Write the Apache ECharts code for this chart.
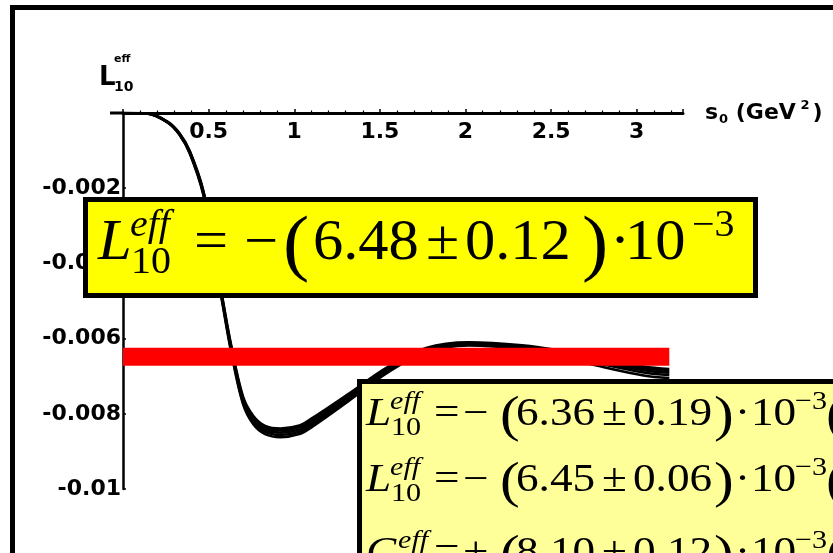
<!DOCTYPE html>
<html>
<head>
<meta charset="utf-8">
<script src="https://cdn.jsdelivr.net/npm/echarts@6/dist/echarts.min.js"></script>
<style>
  html, body { margin: 0; padding: 0; background: #fff; }
  #chart { width: 833px; height: 553px; }
</style>
</head>
<body>
<div id="chart"></div>
<script>
// s0 grid (GeV^2) shared by the family of L10eff curves
const sGrid = [0, 0.14, 0.26, 0.33, 0.39, 0.47, 0.52, 0.58, 0.63, 0.70, 0.76, 0.83, 0.92, 1.03, 1.10, 1.32, 1.54, 1.77, 2.02, 2.33, 2.55, 2.78, 3.04, 3.19];

// L10eff(s0) in units of 10^-3, one array per curve of the band
const curveA = [0, -0.01, -0.23, -0.54, -1.01, -2.08, -3.40, -4.90, -6.14, -7.53, -8.05, -8.32, -8.39, -8.31, -8.13, -7.46, -6.77, -6.25, -6.10, -6.18, -6.32, -6.53, -6.74, -6.81];
const curveB = [0, -0.01, -0.24, -0.55, -1.03, -2.11, -3.44, -4.94, -6.18, -7.58, -8.10, -8.37, -8.44, -8.36, -8.18, -7.50, -6.80, -6.27, -6.12, -6.20, -6.35, -6.57, -6.79, -6.86];
const curveC = [0, -0.01, -0.24, -0.56, -1.04, -2.13, -3.46, -4.97, -6.22, -7.63, -8.16, -8.43, -8.50, -8.42, -8.24, -7.55, -6.84, -6.30, -6.14, -6.22, -6.38, -6.61, -6.84, -6.91];
const curveD = [0, -0.01, -0.25, -0.57, -1.06, -2.16, -3.50, -5.01, -6.27, -7.68, -8.21, -8.48, -8.56, -8.48, -8.30, -7.60, -6.88, -6.33, -6.16, -6.25, -6.42, -6.66, -6.90, -6.97];
const curveE = [0, -0.01, -0.25, -0.58, -1.08, -2.19, -3.54, -5.05, -6.32, -7.73, -8.27, -8.54, -8.62, -8.54, -8.36, -7.65, -6.92, -6.36, -6.18, -6.28, -6.47, -6.73, -6.98, -7.05];
const curves = [curveA, curveB, curveC, curveD, curveE];

// Fitted plateau value and its spread (units of 10^-3)
const fitValue = 6.48;
const fitError = 0.12;
const fitRange = [0, 3.19];

// Other determinations quoted in the lower box
const otherResults = [
  { sym: 'L', sub: '10', sign: '−', value: '6.36', err: '0.19' },
  { sym: 'L', sub: '10', sign: '−', value: '6.45', err: '0.06' },
  { sym: 'C', sub: '',   sign: '+', value: '8.10', err: '0.12' }
];

const UNIT = 1e-3;
const AXIS_FONT = 'DejaVu Sans';
const MATH_FONT = 'Liberation Serif';

const series = curves.map((c, k) => ({
  type: 'line',
  name: 'curve' + k,
  data: sGrid.map((s, i) => [s, c[i] * UNIT]),
  smooth: 0.35,
  symbol: 'none',
  lineStyle: { color: '#000', width: 2.6 },
  z: 3
}));
series.push({
  type: 'line',
  name: 'fit',
  data: fitRange.map(s => [s, -fitValue * UNIT]),
  symbol: 'none',
  lineStyle: { color: '#ff0000', width: 18, cap: 'butt' },
  z: 5
});

// One piece of typeset formula text, placed by its baseline
function piece(text, x, base, size, opts) {
  opts = opts || {};
  return {
    type: 'text',
    x: x,
    y: base - size * 0.32,
    scaleX: opts.sx || 1,
    z: 101,
    style: {
      text: text,
      fill: '#000',
      font: (opts.italic ? 'italic ' : '') + size + 'px "' + MATH_FONT + '"',
      verticalAlign: 'middle',
      align: 'left'
    }
  };
}

function formulaLine(r, base, F, sx, xs) {
  const sub = Math.round(F * 0.66);
  const par = Math.round(F * 1.3);
  const out = [
    piece(r.sym, xs.sym, base, F, { italic: true, sx }),
    piece('eff', r.sym === 'C' ? xs.supC : xs.sup, base - F * 0.42, sub, { italic: true, sx }),
    piece('=', xs.eq, base, F, { sx }),
    piece(r.sign, xs.sign, base, F, { sx }),
    piece('(', xs.lp, base + F * 0.17, par, { sx }),
    piece(r.value, xs.value, base, F, { sx }),
    piece('±', xs.pm, base, F, { sx }),
    piece(r.err, xs.err, base, F, { sx }),
    piece(')', xs.rp, base + F * 0.17, par, { sx }),
    piece('·', xs.dot, base, F, { sx }),
    piece('10', xs.ten, base, F, { sx }),
    piece('−3', xs.exp, base - F * 0.42, sub, { sx })
  ];
  if (r.sub) out.push(piece(r.sub, xs.sub, base + F * 0.24, sub, { sx }));
  if (xs.tail) out.push(piece('(', xs.tail, base + F * 0.17, par, { sx }));
  return out;
}

const mainXs = { sym: 98, sup: 130, supC: 130, sub: 131, eq: 194, sign: 244, lp: 283, value: 313, pm: 426, err: 465, rp: 582, dot: 610, ten: 625, exp: 692 };
const lowXs  = { sym: 366, sup: 390, supC: 398, sub: 391, eq: 434, sign: 463, lp: 500, value: 516, pm: 602, err: 633, rp: 714, dot: 735, ten: 751, exp: 795, tail: 826 };
const lowBases = [427, 493, 566];

const mainBox = [{
  type: 'rect', z: 100,
  shape: { x: 85.5, y: 199.5, width: 670, height: 96 },
  style: { fill: '#ffff00', stroke: '#000', lineWidth: 5 }
}].concat(formulaLine({ sym: 'L', sub: '10', sign: '−', value: fitValue.toFixed(2), err: fitError.toFixed(2) }, 262, 56, 1.08, mainXs));

let lowBox = [{
  type: 'rect', z: 100,
  shape: { x: 359.5, y: 381.5, width: 600, height: 300 },
  style: { fill: '#ffff99', stroke: '#000', lineWidth: 5 }
}];
otherResults.forEach((r, i) => {
  lowBox = lowBox.concat(formulaLine(r, lowBases[i], 39, 1.16, lowXs));
});

// Axis titles and frame
const axisTitles = [
  { type: 'text', x: 99, y: 91, z: 50, style: { text: 'L', font: 'bold 26px "' + AXIS_FONT + '"', fill: '#000', verticalAlign: 'bottom' } },
  { type: 'text', x: 114, y: 65, z: 50, style: { text: 'eff', font: 'bold 11px "' + AXIS_FONT + '"', fill: '#000', verticalAlign: 'bottom' } },
  { type: 'text', x: 114, y: 94, z: 50, style: { text: '10', font: 'bold 14px "' + AXIS_FONT + '"', fill: '#000', verticalAlign: 'bottom' } },
  // short overhang of the horizontal axis to the left of the origin
  { type: 'line', z: 50, shape: { x1: 110, y1: 113, x2: 124, y2: 113 }, style: { stroke: '#000', lineWidth: 3 } },
  // outer frame
  { type: 'rect', z: 1, shape: { x: 12.5, y: 7.5, width: 900, height: 700 }, style: { fill: 'none', stroke: '#000', lineWidth: 5 } }
];

const chart = echarts.init(document.getElementById('chart'), null, { renderer: 'canvas' });
chart.setOption({
  animation: false,
  backgroundColor: '#fff',
  grid: { left: 123, top: 113, width: 560, height: 376, containLabel: false },
  xAxis: {
    type: 'value', position: 'top', min: 0, max: 3.27, interval: 0.5,
    axisLine: { show: true, onZero: false, lineStyle: { color: '#000', width: 3 } },
    axisTick: { show: true, inside: false, length: 4, lineStyle: { color: '#000', width: 1.5 } },
    minorTick: { show: true, splitNumber: 5, length: 2.5, lineStyle: { color: '#000', width: 1.2 } },
    splitLine: { show: false },
    axisLabel: {
      inside: true, margin: 8, color: '#000', fontFamily: AXIS_FONT, fontWeight: 'bold', fontSize: 22,
      formatter: v => (v > 0 && Math.abs(v * 2 - Math.round(v * 2)) < 1e-6) ? String(+v.toFixed(1)) : ''
    },
    name: '{s|s}{sub|0}{s| (GeV}{sup| 2}{s|)}',
    nameLocation: 'end', nameGap: 22,
    nameTextStyle: {
      color: '#000',
      rich: {
        s: { fontFamily: AXIS_FONT, fontWeight: 'bold', fontSize: 22, color: '#000' },
        sub: { fontFamily: AXIS_FONT, fontWeight: 'bold', fontSize: 13, color: '#000', padding: [14, 0, 0, 1] },
        sup: { fontFamily: AXIS_FONT, fontWeight: 'bold', fontSize: 13, color: '#000', padding: [0, 3, 14, 0] }
      }
    }
  },
  yAxis: {
    type: 'value', min: -0.01, max: 0, interval: 0.002,
    axisLine: { show: true, onZero: false, lineStyle: { color: '#000', width: 2.5 } },
    axisTick: { show: true, inside: true, length: 3, lineStyle: { color: '#000', width: 1.5 } },
    splitLine: { show: false },
    axisLabel: {
      margin: 2, color: '#000', fontFamily: AXIS_FONT, fontWeight: 'bold', fontSize: 22,
      formatter: v => v === 0 ? '' : String(parseFloat(v.toFixed(4)))
    }
  },
  series: series,
  graphic: { elements: axisTitles.concat(mainBox, lowBox) }
});
</script>
</body>
</html>
